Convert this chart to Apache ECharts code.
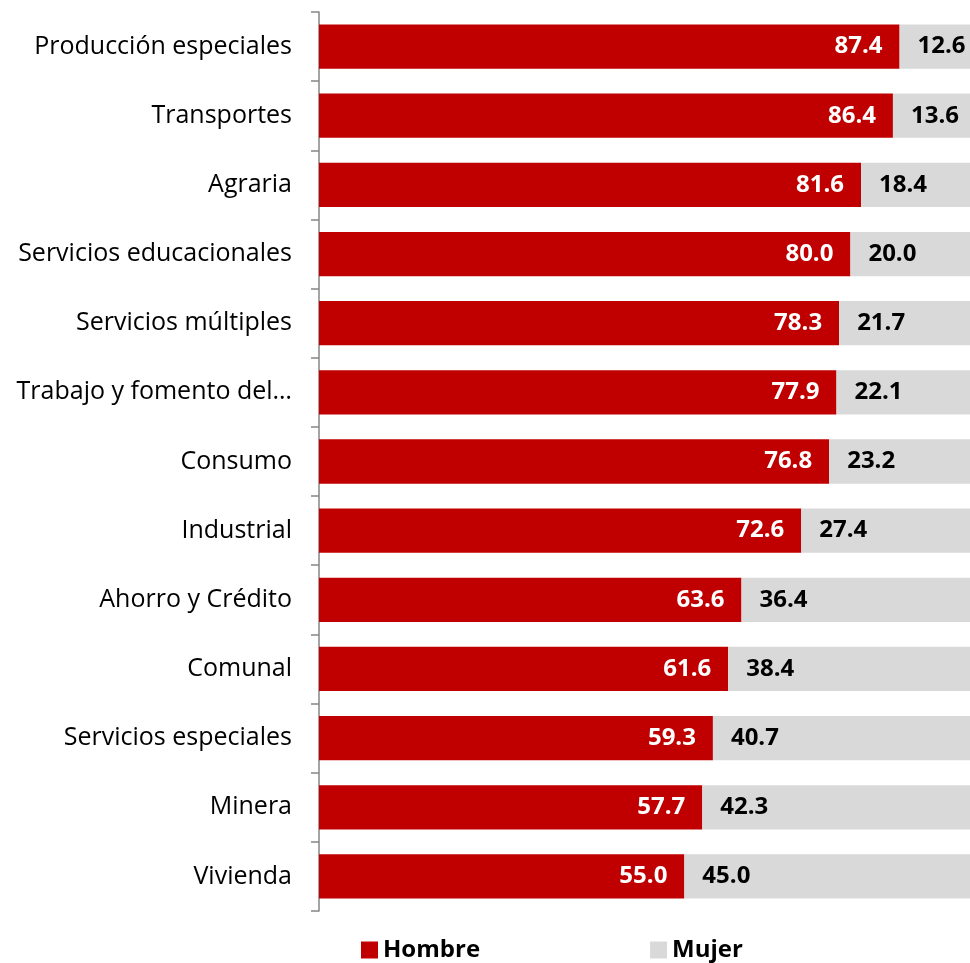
<!DOCTYPE html>
<html>
<head>
<meta charset="utf-8">
<script src="https://cdn.jsdelivr.net/npm/echarts@6/dist/echarts.min.js"></script>
<style>
  html, body { margin: 0; padding: 0; background: #fff; }
  #chart { width: 970px; height: 963px; }
</style>
</head>
<body>
<div id="chart"></div>
<script>
// categorías (de arriba hacia abajo)
const categories = [
  'Producción especiales', 'Transportes', 'Agraria', 'Servicios educacionales',
  'Servicios múltiples', 'Trabajo y fomento del…', 'Consumo', 'Industrial',
  'Ahorro y Crédito', 'Comunal', 'Servicios especiales', 'Minera', 'Vivienda'
];
const hombre = [87.4, 86.4, 81.6, 80.0, 78.3, 77.9, 76.8, 72.6, 63.6, 61.6, 59.3, 57.7, 55.0];
const mujer = [12.6, 13.6, 18.4, 20.0, 21.7, 22.1, 23.2, 27.4, 36.4, 38.4, 40.7, 42.3, 45.0];

const FONT = 'Open Sans';

const chart = echarts.init(document.getElementById('chart'));
chart.setOption({
  animation: false,
  textStyle: { fontFamily: FONT },
  grid: { left: 319, right: 0, top: 12, bottom: 52, containLabel: false },
  legend: {
    top: 933,
    left: 356,
    itemGap: 170,
    itemWidth: 17,
    itemHeight: 17,
    itemStyle: { borderWidth: 0 },
    icon: 'rect',
    data: ['Hombre', 'Mujer'],
    textStyle: { fontSize: 24, fontWeight: 'bold', color: '#000', fontFamily: FONT }
  },
  xAxis: {
    type: 'value',
    min: 0,
    // el 100 % queda fuera del borde derecho, como en el original (recortado)
    max: 98,
    show: false
  },
  yAxis: {
    type: 'category',
    data: categories,
    inverse: true,
    axisLine: { show: true, lineStyle: { color: '#868686', width: 1.5 } },
    axisTick: { show: true, length: 8, lineStyle: { color: '#868686', width: 1.5 } },
    axisLabel: { fontSize: 25, color: '#000', margin: 27, fontFamily: FONT }
  },
  series: [
    {
      name: 'Hombre',
      type: 'bar',
      stack: 'total',
      data: hombre,
      barCategoryGap: '36%',
      itemStyle: { color: '#C00000' },
      label: {
        show: true,
        position: 'insideRight',
        distance: 17,
        color: '#fff',
        fontSize: 24,
        fontWeight: 'bold',
        fontFamily: FONT,
        formatter: p => p.value.toFixed(1)
      }
    },
    {
      name: 'Mujer',
      type: 'bar',
      stack: 'total',
      data: mujer,
      itemStyle: { color: '#D9D9D9' },
      label: {
        show: true,
        position: 'insideLeft',
        distance: 18,
        color: '#000',
        fontSize: 24,
        fontWeight: 'bold',
        fontFamily: FONT,
        formatter: p => p.value.toFixed(1)
      }
    }
  ]
});
</script>
</body>
</html>
